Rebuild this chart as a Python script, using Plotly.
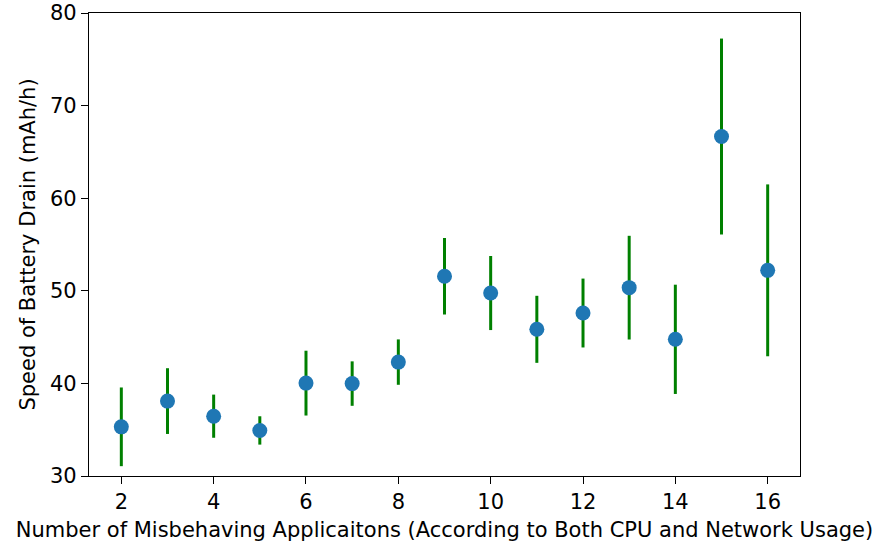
import plotly.graph_objects as go

# Number of misbehaving apps and the measured drain speed (mean ± spread)
apps = [2, 3, 4, 5, 6, 7, 8, 9, 10, 11, 12, 13, 14, 15, 16]
drain_mean = [35.31, 38.09, 36.46, 34.92, 40.03, 39.98, 42.30, 51.57, 49.76,
              45.84, 47.60, 50.34, 44.76, 66.66, 52.21]
drain_err = [4.25, 3.55, 2.33, 1.53, 3.50, 2.40, 2.45, 4.13, 4.00,
             3.62, 3.72, 5.60, 5.90, 10.58, 9.28]

x_ticks = [2, 4, 6, 8, 10, 12, 14, 16]
y_ticks = [30, 40, 50, 60, 70, 80]

fig = go.Figure()
fig.add_trace(go.Scatter(
    x=apps,
    y=drain_mean,
    mode="markers",
    marker=dict(color="#1f77b4", size=15, line=dict(width=0)),
    error_y=dict(type="data", array=drain_err, visible=True,
                 color="#008000", thickness=3, width=0),
    showlegend=False,
))

font = dict(family="DejaVu Sans", size=21, color="black")
axis_common = dict(
    showline=True, linecolor="black", linewidth=1.2, mirror=True,
    ticks="outside", ticklen=7, tickwidth=1.2, tickcolor="black",
    showgrid=False, zeroline=False, tickfont=font, automargin=False,
)

fig.update_layout(
    width=883, height=546,
    margin=dict(l=89, r=83, t=13, b=70),
    paper_bgcolor="white", plot_bgcolor="white",
    font=font,
    xaxis=dict(range=[1.3, 16.7], tickvals=x_ticks,
               title=dict(text="Number of Misbehaving Applicaitons (According to Both CPU and Network Usage)",
                          font=font, standoff=9),
               **axis_common),
    yaxis=dict(range=[30, 80], tickvals=y_ticks,
               title=dict(text="Speed of Battery Drain (mAh/h)", font=font, standoff=8),
               **axis_common),
)

fig.write_html("out.html")
